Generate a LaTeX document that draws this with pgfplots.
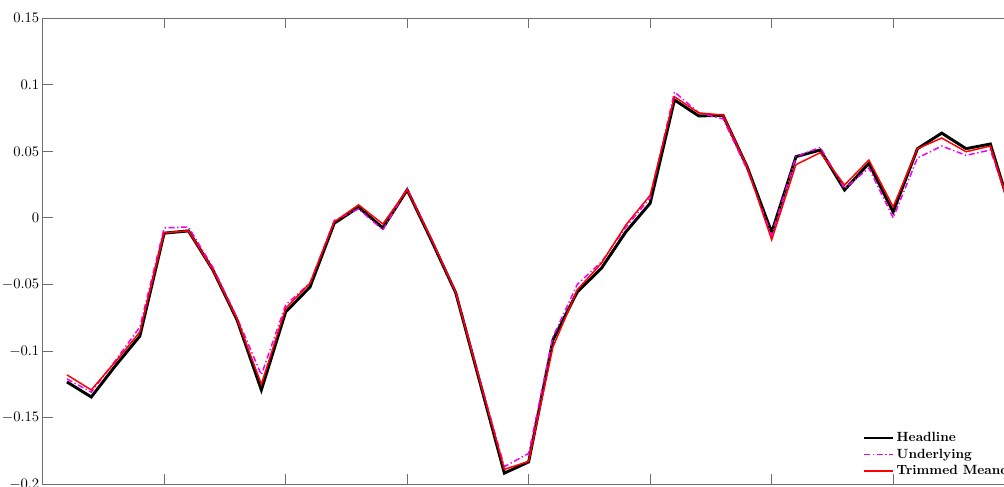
\documentclass[border=0pt]{standalone}
\usepackage{pgfplots}
\pgfplotsset{compat=1.18}
\usepackage{pgfplotstable}
\pgfplotstableread{
x H U T
1 -0.1233 -0.121 -0.118
2 -0.1346 -0.131 -0.1293
3 -0.111 -0.107 -0.108
4 -0.0888 -0.082 -0.0857
5 -0.0115 -0.0076 -0.0112
6 -0.0098 -0.0068 -0.0098
7 -0.039 -0.037 -0.039
8 -0.0767 -0.075 -0.076
9 -0.1293 -0.118 -0.125
10 -0.0707 -0.0654 -0.068
11 -0.052 -0.049 -0.049
12 -0.004 -0.002 -0.003
13 0.008 0.0067 0.0098
14 -0.0076 -0.009 -0.0046
15 0.021 0.022 0.021
16 -0.017 -0.016 -0.016
17 -0.0564 -0.056 -0.056
18 -0.124 -0.122 -0.123
19 -0.1918 -0.187 -0.189
20 -0.1834 -0.177 -0.183
21 -0.0917 -0.0894 -0.097
22 -0.0557 -0.050 -0.054
23 -0.0377 -0.033 -0.034
24 -0.0105 -0.007 -0.0053
25 0.011 0.015 0.017
26 0.0886 0.0946 0.091
27 0.0766 0.079 0.0789
28 0.077 0.0744 0.0773
29 0.038 0.036 0.038
30 -0.011 -0.013 -0.0165
31 0.046 0.046 0.040
32 0.051 0.053 0.049
33 0.021 0.022 0.0247
34 0.041 0.0375 0.0435
35 0.0045 0.0 0.0083
36 0.052 0.045 0.052
37 0.0637 0.054 0.060
38 0.052 0.047 0.0497
39 0.0555 0.051 0.054
40 -0.004 -0.002 -0.004
}\datatable
\definecolor{axgray}{RGB}{110,110,110}
\definecolor{umag}{RGB}{240,0,240}
\begin{document}
\begin{tikzpicture}
\useasboundingbox (-32pt,-1.5pt) rectangle (721pt,363pt);
\clip (-32pt,-1.5pt) rectangle (721pt,363pt);
\begin{axis}[
  anchor=south west, at={(0,0)},
  scale only axis, width=729pt, height=349.3pt,
  xmin=0, xmax=40, ymin=-0.2, ymax=0.15,
  xtick={5,10,...,40}, xticklabels={},
  ytick={-0.2,-0.15,...,0.15},
  scaled y ticks=false,
  yticklabel style={/pgf/number format/fixed, /pgf/number format/precision=2, font=\fontsize{10.5}{12}\selectfont, xshift=1pt},
  tick align=inside, major tick length=7.5pt,
  tick style={axgray, line width=0.6pt},
  axis line style={axgray, line width=0.75pt},
  legend style={draw=none, fill=none, at={(rel axis cs:0.842,0.12)}, anchor=north west,
    font=\fontsize{10}{12}\selectfont\bfseries, row sep=0pt, inner sep=1pt},
  legend cell align=left,
  legend image code/.code={\draw[#1] (0cm,0cm) -- (0.75cm,0cm);},
]
\addplot[black, line width=2.2pt] table[x=x, y=H] {\datatable};
\addlegendentry{\fontsize{10}{12}\selectfont\bfseries Headline}
\addplot[umag, line width=1.1pt, dash pattern=on 4.5pt off 2pt on 1pt off 2pt] table[x=x, y=U] {\datatable};
\addlegendentry{\fontsize{10}{12}\selectfont\bfseries Underlying}
\addplot[red, line width=1.1pt] table[x=x, y=T] {\datatable};
\addlegendentry{\fontsize{10}{12}\selectfont\bfseries Trimmed Meand}
\end{axis}
\end{tikzpicture}
\end{document}
